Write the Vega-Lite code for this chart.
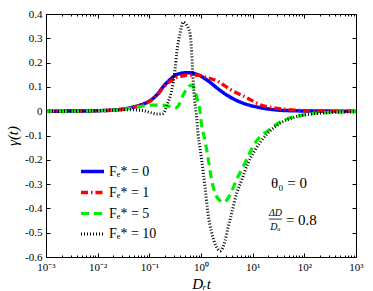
{
  "$schema": "https://vega.github.io/schema/vega-lite/v6.json",
  "width": 310,
  "height": 243,
  "autosize": "none",
  "padding": {"left": 46, "top": 14, "right": 17, "bottom": 34},
  "background": "white",
  "config": {
    "view": {"stroke": "black", "strokeWidth": 1},
    "font": "Liberation Serif",
    "axis": {"grid": false, "domainColor": "black", "tickColor": "black", "labelColor": "black", "titleColor": "black", "labelFont": "Liberation Serif", "titleFont": "Liberation Serif"},
    "legend": {"orient": "none", "legendX": 33, "legendY": 144, "title": null, "padding": 0, "labelFontSize": 14, "labelFont": "Liberation Serif", "labelColor": "black", "symbolType": "stroke", "symbolSize": 529, "labelOffset": 3, "rowPadding": -3}
  },
  "datasets": {
    "curves": [
      {"series": "Fₑ* = 0", "t": 0.001, "g": 0},
      {"series": "Fₑ* = 0", "t": 0.003, "g": 0.0005},
      {"series": "Fₑ* = 0", "t": 0.01, "g": 0.002},
      {"series": "Fₑ* = 0", "t": 0.0271, "g": 0.007},
      {"series": "Fₑ* = 0", "t": 0.0423, "g": 0.014},
      {"series": "Fₑ* = 0", "t": 0.066, "g": 0.025},
      {"series": "Fₑ* = 0", "t": 0.103, "g": 0.043},
      {"series": "Fₑ* = 0", "t": 0.141, "g": 0.068},
      {"series": "Fₑ* = 0", "t": 0.184, "g": 0.1},
      {"series": "Fₑ* = 0", "t": 0.251, "g": 0.13},
      {"series": "Fₑ* = 0", "t": 0.314, "g": 0.147},
      {"series": "Fₑ* = 0", "t": 0.393, "g": 0.155},
      {"series": "Fₑ* = 0", "t": 0.491, "g": 0.158},
      {"series": "Fₑ* = 0", "t": 0.613, "g": 0.158},
      {"series": "Fₑ* = 0", "t": 0.765, "g": 0.154},
      {"series": "Fₑ* = 0", "t": 0.956, "g": 0.146},
      {"series": "Fₑ* = 0", "t": 1.31, "g": 0.128},
      {"series": "Fₑ* = 0", "t": 2.33, "g": 0.086},
      {"series": "Fₑ* = 0", "t": 3.18, "g": 0.066},
      {"series": "Fₑ* = 0", "t": 5.68, "g": 0.038},
      {"series": "Fₑ* = 0", "t": 9.69, "g": 0.022},
      {"series": "Fₑ* = 0", "t": 13.8, "g": 0.015},
      {"series": "Fₑ* = 0", "t": 33.7, "g": 0.004},
      {"series": "Fₑ* = 0", "t": 100, "g": 0.001},
      {"series": "Fₑ* = 0", "t": 1000, "g": 0},

      {"series": "Fₑ* = 1", "t": 0.001, "g": 0},
      {"series": "Fₑ* = 1", "t": 0.003, "g": 0.0005},
      {"series": "Fₑ* = 1", "t": 0.01, "g": 0.002},
      {"series": "Fₑ* = 1", "t": 0.0271, "g": 0.007},
      {"series": "Fₑ* = 1", "t": 0.0423, "g": 0.014},
      {"series": "Fₑ* = 1", "t": 0.066, "g": 0.024},
      {"series": "Fₑ* = 1", "t": 0.103, "g": 0.042},
      {"series": "Fₑ* = 1", "t": 0.141, "g": 0.066},
      {"series": "Fₑ* = 1", "t": 0.184, "g": 0.096},
      {"series": "Fₑ* = 1", "t": 0.251, "g": 0.122},
      {"series": "Fₑ* = 1", "t": 0.314, "g": 0.136},
      {"series": "Fₑ* = 1", "t": 0.393, "g": 0.143},
      {"series": "Fₑ* = 1", "t": 0.491, "g": 0.147},
      {"series": "Fₑ* = 1", "t": 0.613, "g": 0.149},
      {"series": "Fₑ* = 1", "t": 0.765, "g": 0.149},
      {"series": "Fₑ* = 1", "t": 0.956, "g": 0.147},
      {"series": "Fₑ* = 1", "t": 1.31, "g": 0.138},
      {"series": "Fₑ* = 1", "t": 2.04, "g": 0.125},
      {"series": "Fₑ* = 1", "t": 3.64, "g": 0.09},
      {"series": "Fₑ* = 1", "t": 7.76, "g": 0.055},
      {"series": "Fₑ* = 1", "t": 13.8, "g": 0.027},
      {"series": "Fₑ* = 1", "t": 30, "g": 0.012},
      {"series": "Fₑ* = 1", "t": 75, "g": 0.004},
      {"series": "Fₑ* = 1", "t": 200, "g": 0.001},
      {"series": "Fₑ* = 1", "t": 1000, "g": 0},

      {"series": "Fₑ* = 5", "t": 0.001, "g": 0},
      {"series": "Fₑ* = 5", "t": 0.003, "g": 0.0005},
      {"series": "Fₑ* = 5", "t": 0.01, "g": 0.002},
      {"series": "Fₑ* = 5", "t": 0.0271, "g": 0.006},
      {"series": "Fₑ* = 5", "t": 0.0423, "g": 0.012},
      {"series": "Fₑ* = 5", "t": 0.066, "g": 0.019},
      {"series": "Fₑ* = 5", "t": 0.103, "g": 0.025},
      {"series": "Fₑ* = 5", "t": 0.201, "g": 0.024},
      {"series": "Fₑ* = 5", "t": 0.314, "g": 0.012},
      {"series": "Fₑ* = 5", "t": 0.359, "g": 0.02},
      {"series": "Fₑ* = 5", "t": 0.449, "g": 0.066},
      {"series": "Fₑ* = 5", "t": 0.525, "g": 0.09},
      {"series": "Fₑ* = 5", "t": 0.613, "g": 0.105},
      {"series": "Fₑ* = 5", "t": 0.67, "g": 0.107},
      {"series": "Fₑ* = 5", "t": 0.732, "g": 0.095},
      {"series": "Fₑ* = 5", "t": 0.837, "g": 0.055},
      {"series": "Fₑ* = 5", "t": 0.956, "g": 0.0},
      {"series": "Fₑ* = 5", "t": 1.03, "g": -0.058},
      {"series": "Fₑ* = 5", "t": 1.195, "g": -0.12},
      {"series": "Fₑ* = 5", "t": 1.366, "g": -0.19},
      {"series": "Fₑ* = 5", "t": 1.61, "g": -0.284},
      {"series": "Fₑ* = 5", "t": 1.87, "g": -0.337},
      {"series": "Fₑ* = 5", "t": 2.33, "g": -0.368},
      {"series": "Fₑ* = 5", "t": 2.66, "g": -0.375},
      {"series": "Fₑ* = 5", "t": 3.18, "g": -0.365},
      {"series": "Fₑ* = 5", "t": 3.92, "g": -0.33},
      {"series": "Fₑ* = 5", "t": 4.91, "g": -0.28},
      {"series": "Fₑ* = 5", "t": 6.49, "g": -0.23},
      {"series": "Fₑ* = 5", "t": 8.87, "g": -0.169},
      {"series": "Fₑ* = 5", "t": 12.1, "g": -0.12},
      {"series": "Fₑ* = 5", "t": 19.8, "g": -0.08},
      {"series": "Fₑ* = 5", "t": 33.7, "g": -0.045},
      {"series": "Fₑ* = 5", "t": 60.2, "g": -0.024},
      {"series": "Fₑ* = 5", "t": 112, "g": -0.013},
      {"series": "Fₑ* = 5", "t": 200, "g": -0.007},
      {"series": "Fₑ* = 5", "t": 667, "g": -0.003},
      {"series": "Fₑ* = 5", "t": 1000, "g": -0.002},

      {"series": "Fₑ* = 10", "t": 0.001, "g": 0},
      {"series": "Fₑ* = 10", "t": 0.003, "g": 0.0005},
      {"series": "Fₑ* = 10", "t": 0.01, "g": 0.002},
      {"series": "Fₑ* = 10", "t": 0.0271, "g": 0.005},
      {"series": "Fₑ* = 10", "t": 0.0423, "g": 0.006},
      {"series": "Fₑ* = 10", "t": 0.066, "g": 0.004},
      {"series": "Fₑ* = 10", "t": 0.103, "g": -0.005},
      {"series": "Fₑ* = 10", "t": 0.141, "g": -0.012},
      {"series": "Fₑ* = 10", "t": 0.184, "g": -0.01},
      {"series": "Fₑ* = 10", "t": 0.226, "g": 0.033},
      {"series": "Fₑ* = 10", "t": 0.271, "g": 0.086},
      {"series": "Fₑ* = 10", "t": 0.314, "g": 0.17},
      {"series": "Fₑ* = 10", "t": 0.339, "g": 0.24},
      {"series": "Fₑ* = 10", "t": 0.393, "g": 0.32},
      {"series": "Fₑ* = 10", "t": 0.455, "g": 0.367},
      {"series": "Fₑ* = 10", "t": 0.525, "g": 0.355},
      {"series": "Fₑ* = 10", "t": 0.613, "g": 0.32},
      {"series": "Fₑ* = 10", "t": 0.661, "g": 0.24},
      {"series": "Fₑ* = 10", "t": 0.7, "g": 0.14},
      {"series": "Fₑ* = 10", "t": 0.765, "g": 0.03},
      {"series": "Fₑ* = 10", "t": 0.826, "g": -0.03},
      {"series": "Fₑ* = 10", "t": 0.875, "g": -0.09},
      {"series": "Fₑ* = 10", "t": 1.03, "g": -0.2},
      {"series": "Fₑ* = 10", "t": 1.195, "g": -0.31},
      {"series": "Fₑ* = 10", "t": 1.366, "g": -0.42},
      {"series": "Fₑ* = 10", "t": 1.61, "g": -0.5},
      {"series": "Fₑ* = 10", "t": 2.01, "g": -0.56},
      {"series": "Fₑ* = 10", "t": 2.33, "g": -0.575},
      {"series": "Fₑ* = 10", "t": 2.91, "g": -0.535},
      {"series": "Fₑ* = 10", "t": 3.33, "g": -0.48},
      {"series": "Fₑ* = 10", "t": 3.92, "g": -0.42},
      {"series": "Fₑ* = 10", "t": 4.91, "g": -0.337},
      {"series": "Fₑ* = 10", "t": 6.13, "g": -0.284},
      {"series": "Fₑ* = 10", "t": 8.11, "g": -0.214},
      {"series": "Fₑ* = 10", "t": 11.1, "g": -0.16},
      {"series": "Fₑ* = 10", "t": 13.8, "g": -0.13},
      {"series": "Fₑ* = 10", "t": 19.8, "g": -0.09},
      {"series": "Fₑ* = 10", "t": 33.7, "g": -0.05},
      {"series": "Fₑ* = 10", "t": 60.2, "g": -0.027},
      {"series": "Fₑ* = 10", "t": 112, "g": -0.014},
      {"series": "Fₑ* = 10", "t": 200, "g": -0.008},
      {"series": "Fₑ* = 10", "t": 667, "g": -0.003},
      {"series": "Fₑ* = 10", "t": 1000, "g": -0.002}
    ]
  },
  "resolve": {"axis": {"x": "independent", "y": "independent"}},
  "layer": [
    {
      "mark": {"type": "rule", "strokeDash": [5, 4], "strokeWidth": 0.8, "color": "#222222"},
      "encoding": {
        "x": {"datum": 0.001, "type": "quantitative", "scale": {"type": "log", "domain": [0.001, 1000], "nice": false},
          "axis": {"orient": "top", "title": null, "labels": false, "domain": false,
            "values": [0.001,0.002,0.003,0.004,0.005,0.006,0.007,0.008,0.009,0.01,0.02,0.03,0.04,0.05,0.06,0.07,0.08,0.09,0.1,0.2,0.3,0.4,0.5,0.6,0.7,0.8,0.9,1,2,3,4,5,6,7,8,9,10,20,30,40,50,60,70,80,90,100,200,300,400,500,600,700,800,900,1000],
            "tickSize": {"condition": {"test": "indexof([0.001,0.01,0.1,1,10,100,1000], datum.value) >= 0", "value": -4}, "value": -2}}},
        "x2": {"datum": 1000},
        "y": {"datum": 0, "type": "quantitative", "scale": {"domain": [-0.6, 0.4], "nice": false, "zero": false},
          "axis": {"orient": "right", "title": null, "labels": false, "domain": false, "tickSize": -4,
            "values": [-0.6,-0.5,-0.4,-0.3,-0.2,-0.1,0,0.1,0.2,0.3,0.4]}}
      }
    },
    {
      "data": {"name": "curves"},
      "mark": {"type": "line", "interpolate": "monotone", "strokeCap": "butt"},
      "encoding": {
        "x": {"field": "t", "type": "quantitative", "scale": {"type": "log", "domain": [0.001, 1000], "nice": false},
          "axis": {"orient": "bottom", "title": "Dᵣt", "titleFontStyle": "italic", "titleFontWeight": "normal", "titleFontSize": 15, "titlePadding": 2,
            "labelFontSize": 11, "labelPadding": 8, "labelFlush": false, "labelOverlap": false, "domain": false,
            "values": [0.001,0.002,0.003,0.004,0.005,0.006,0.007,0.008,0.009,0.01,0.02,0.03,0.04,0.05,0.06,0.07,0.08,0.09,0.1,0.2,0.3,0.4,0.5,0.6,0.7,0.8,0.9,1,2,3,4,5,6,7,8,9,10,20,30,40,50,60,70,80,90,100,200,300,400,500,600,700,800,900,1000],
            "tickSize": {"condition": {"test": "indexof([0.001,0.01,0.1,1,10,100,1000], datum.value) >= 0", "value": -4}, "value": -2},
            "labelExpr": "datum.value == 0.001 ? '10⁻³' : datum.value == 0.01 ? '10⁻²' : datum.value == 0.1 ? '10⁻¹' : datum.value == 1 ? '10⁰' : datum.value == 10 ? '10¹' : datum.value == 100 ? '10²' : datum.value == 1000 ? '10³' : ''"}},
        "y": {"field": "g", "type": "quantitative", "scale": {"domain": [-0.6, 0.4], "nice": false, "zero": false},
          "axis": {"orient": "left", "title": "γ(t)", "titleFontStyle": "italic", "titleFontWeight": "normal", "titleFontSize": 15, "titlePadding": 4,
            "labelFontSize": 11, "labelPadding": 8, "domain": false, "tickSize": -4,
            "values": [-0.6,-0.5,-0.4,-0.3,-0.2,-0.1,0,0.1,0.2,0.3,0.4],
            "labelExpr": "datum.value == 0 ? '0' : (datum.value < 0 ? '-' : '') + format(abs(datum.value), '.1f')"}},
        "color": {"field": "series", "type": "nominal",
          "scale": {"domain": ["Fₑ* = 0", "Fₑ* = 1", "Fₑ* = 5", "Fₑ* = 10"], "range": ["#0000ff", "#ff0000", "#00ee00", "#000000"]}},
        "strokeDash": {"field": "series", "type": "nominal",
          "scale": {"domain": ["Fₑ* = 0", "Fₑ* = 1", "Fₑ* = 5", "Fₑ* = 10"], "range": [[1, 0], [7, 3, 1.5, 3], [8, 5], [1, 2]]}},
        "strokeWidth": {"field": "series", "type": "nominal",
          "scale": {"domain": ["Fₑ* = 0", "Fₑ* = 1", "Fₑ* = 5", "Fₑ* = 10"], "range": [3.5, 3, 3, 1]}}
      }
    },
    {
      "data": {"values": [{"x": 50.4, "y": -0.296, "label": "θ₀ = 0"}]},
      "mark": {"type": "text", "fontSize": 15, "font": "Liberation Serif", "color": "black", "align": "center", "baseline": "middle"},
      "encoding": {
        "x": {"field": "x", "type": "quantitative", "scale": {"type": "log", "domain": [0.001, 1000], "nice": false}, "axis": null},
        "y": {"field": "y", "type": "quantitative", "scale": {"domain": [-0.6, 0.4], "nice": false, "zero": false}, "axis": null},
        "text": {"field": "label"}
      }
    },
    {
      "data": {"values": [{"x": 27.6, "y": -0.42, "label": "ΔD"}, {"x": 27.6, "y": -0.477, "label": "Dₐ"}]},
      "mark": {"type": "text", "fontSize": 10, "font": "Liberation Serif", "fontStyle": "italic", "color": "black", "align": "center", "baseline": "middle"},
      "encoding": {
        "x": {"field": "x", "type": "quantitative", "scale": {"type": "log", "domain": [0.001, 1000], "nice": false}, "axis": null},
        "y": {"field": "y", "type": "quantitative", "scale": {"domain": [-0.6, 0.4], "nice": false, "zero": false}, "axis": null},
        "text": {"field": "label"}
      }
    },
    {
      "data": {"values": [{"x": 20.7, "x2": 36.9, "y": -0.444}]},
      "mark": {"type": "rule", "strokeWidth": 0.8, "color": "black"},
      "encoding": {
        "x": {"field": "x", "type": "quantitative", "scale": {"type": "log", "domain": [0.001, 1000], "nice": false}, "axis": null},
        "x2": {"field": "x2"},
        "y": {"field": "y", "type": "quantitative", "scale": {"domain": [-0.6, 0.4], "nice": false, "zero": false}, "axis": null}
      }
    },
    {
      "data": {"values": [{"x": 44, "y": -0.449, "label": "= 0.8"}]},
      "mark": {"type": "text", "fontSize": 15, "font": "Liberation Serif", "color": "black", "align": "left", "baseline": "middle"},
      "encoding": {
        "x": {"field": "x", "type": "quantitative", "scale": {"type": "log", "domain": [0.001, 1000], "nice": false}, "axis": null},
        "y": {"field": "y", "type": "quantitative", "scale": {"domain": [-0.6, 0.4], "nice": false, "zero": false}, "axis": null},
        "text": {"field": "label"}
      }
    }
  ]
}
